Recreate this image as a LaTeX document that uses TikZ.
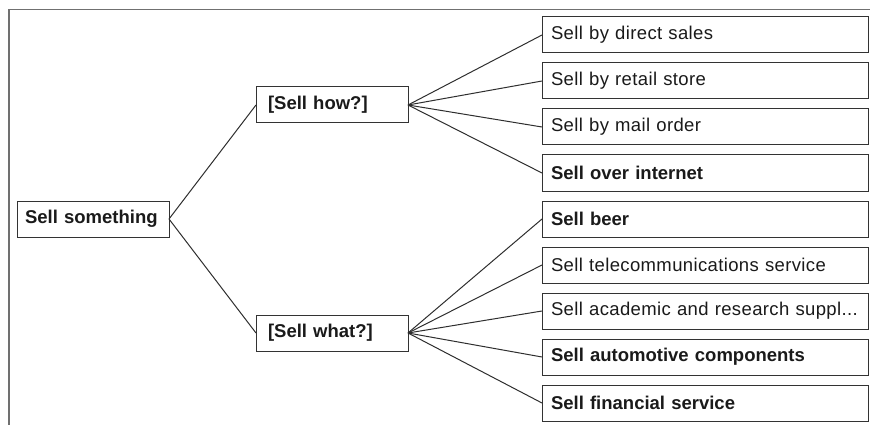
\documentclass[tikz,border=0pt]{standalone}
\usepackage{fontspec}
\setmainfont{Liberation Sans}
\newfontfamily\leaffont[LetterSpace=2]{Liberation Sans}
\usepackage{tikz}
\usetikzlibrary{
    positioning
}
\definecolor{boxborder}{HTML}{333333}
\definecolor{linkcolor}{HTML}{2E2E2E}
\definecolor{framecolor}{HTML}{707070}
\definecolor{labeltext}{HTML}{1A1A1A}
\tikzset{
    goal/.style={
        rectangle, draw=boxborder, fill=white,
        line width=1pt, outer sep=0pt,
        minimum height=36pt, minimum width=152pt,
        inner xsep=8pt, inner ysep=0pt,
        text width=136pt, align=left, anchor=west,
        text=labeltext,
        font=\fontsize{18.5}{21}\selectfont\bfseries
    },
    question/.style={
        goal, inner xsep=12pt, text width=128pt
    },
    leaf/.style={
        goal, minimum width=326pt,
        inner xsep=9pt, text width=308pt,
        font=\leaffont\fontsize{18.5}{21}\selectfont
    },
    leaf bold/.style={
        leaf, font=\fontsize{18.5}{21}\selectfont\bfseries
    },
    branch/.style={
        draw=linkcolor, line width=1pt
    },
    frame line/.style={
        draw=framecolor, line width=1.3pt
    },
}
\begin{document}
\begin{tikzpicture}[x=1pt, y=-1pt, node distance=10pt]

    \useasboundingbox (0,0) rectangle (870,425);

    % ── Frame ──
    \coordinate (frametl) at (9,9.5);
    \coordinate (frametr) at (870,9.5);
    \coordinate (framebl) at (9,425);
    \draw[frame line] (frametr) -- (frametl) -- (framebl);

    % ── Root and questions ──
    \node[goal] (sellsomething) at (17,219) {Sell something};
    \node[question] (sellhow) at (256,105) {[Sell how?]};
    \node[question] (sellwhat) at (256,333) {[Sell what?]};

    % ── How leaves ──
    \node[leaf] (direct) at (542,35) {Sell by direct sales};
    \node[leaf, below=of direct.south west, anchor=north west] (retail) {Sell by retail store};
    \node[leaf, below=of retail.south west, anchor=north west] (mail) {Sell by mail order};
    \node[leaf bold, below=of mail.south west, anchor=north west] (internet) {Sell over internet};

    % ── What leaves ──
    \node[leaf bold, below=of internet.south west, anchor=north west] (beer) {Sell beer};
    \node[leaf, below=of beer.south west, anchor=north west] (telecom) {Sell telecommunications service};
    \node[leaf, below=of telecom.south west, anchor=north west] (academic) {\mbox{Sell academic and research suppl...}};
    \node[leaf bold, below=of academic.south west, anchor=north west] (automotive) {Sell automotive components};
    \node[leaf bold, below=of automotive.south west, anchor=north west] (financial) {Sell financial service};

    % ── Branches ──
    \draw[branch] (sellsomething.east) -- (sellhow.west);
    \draw[branch] (sellsomething.east) -- (sellwhat.west);

    \foreach \leafname in {direct, retail, mail, internet}
        \draw[branch] (sellhow.east) -- (\leafname.west);
    \foreach \leafname in {beer, telecom, academic, automotive, financial}
        \draw[branch] (sellwhat.east) -- (\leafname.west);

\end{tikzpicture}
\end{document}
